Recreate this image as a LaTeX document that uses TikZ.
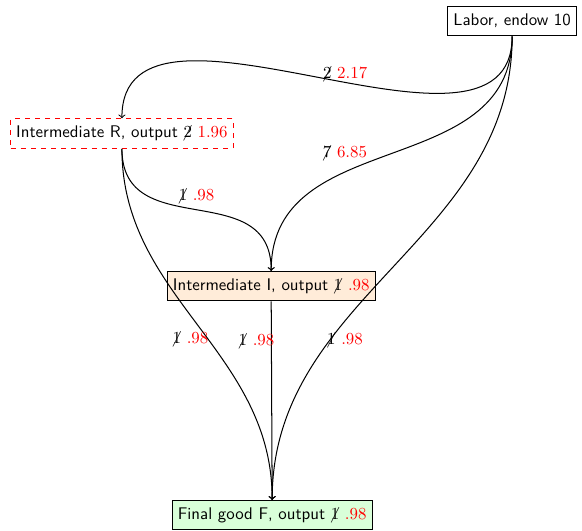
\documentclass[tikz,border=0pt]{standalone}
\usepackage{tikz}

\newcommand{\nixed}[1]{$\mkern-2.5mu\not\mkern2.5mu\mathrel{#1}$}

\tikzset{
  box/.style={draw, semithick, font=\sffamily, minimum height=17.5pt},
  flow/.style={->, semithick},
}

\begin{document}
\begin{tikzpicture}[scale=1.0]
  \useasboundingbox (0.0, 0.0) rectangle (12.125, 11.0625);
  \node[box] (labor) at (10.67, 10.625) {Labor, endow 10};
  \node[box, draw=red, dashed] (inr) at (2.54, 8.28) {Intermediate R, output \nixed{2} \textcolor{red}{$1.96$}};
  \node[box, fill=orange!15] (ini) at (5.65, 5.10) {Intermediate I, output \nixed{1} \textcolor{red}{$.98$}};
  \node[box, fill=green!15] (fin) at (5.67, 0.33) {Final good F, output \nixed{1} \textcolor{red}{$.98$}};
  \draw[flow] (labor.south) to[out=-90, in=90] node[midway, right, yshift=2pt] {\nixed{2} \textcolor{red}{$2.17$}} (inr.north);
  \draw[flow] (labor.south) to[out=-90, in=90, looseness=1.11] node[midway, left=11pt] {\nixed{7} \textcolor{red}{$6.85$}} (ini.north);
  \draw[flow] (labor.south) to[out=-90, in=90] node[pos=0.68, xshift=0.31cm] {\nixed{1} \textcolor{red}{$.98$}} (fin.north);
  \draw[flow] (inr.south) to[out=-90, in=90, looseness=1.26] node[midway, above] {\nixed{1} \textcolor{red}{$.98$}} (ini.north);
  \draw[flow] (inr.south) to[out=-90, in=90] node[pos=0.55, xshift=-0.37cm] {\nixed{1} \textcolor{red}{$.98$}} (fin.north);
  \draw[flow] (ini.south) -- node[pos=0.2, xshift=-0.31cm] {\nixed{1} \textcolor{red}{$.98$}} (fin.north);
\end{tikzpicture}
\end{document}
